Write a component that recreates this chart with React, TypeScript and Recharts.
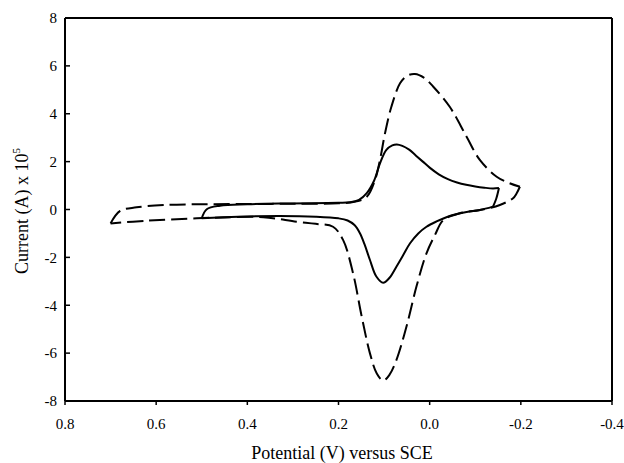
import { LineChart, Line, XAxis, YAxis, ReferenceLine } from 'recharts';

// potential (V) vs current (A x 10^5)
const solidForward: [number, number][] = [
  [0.5, -0.37], [0.489, 0.01], [0.46, 0.16], [0.4, 0.22], [0.33, 0.25], [0.26, 0.26],
  [0.2, 0.28], [0.175, 0.3], [0.155, 0.4], [0.138, 0.68], [0.122, 1.2], [0.109, 1.93],
  [0.095, 2.49], [0.082, 2.68], [0.072, 2.72], [0.06, 2.66], [0.045, 2.5], [0.03, 2.25],
  [0.015, 2.0], [0.0, 1.75], [-0.02, 1.47], [-0.04, 1.27], [-0.06, 1.13], [-0.08, 1.03],
  [-0.1, 0.96], [-0.12, 0.91], [-0.139, 0.88], [-0.152, 0.9],
];
const solidTurn: [number, number][] = [[-0.152, 0.9], [-0.146, 0.45], [-0.139, 0.12]];
const solidReverse: [number, number][] = [
  [-0.139, 0.12], [-0.11, -0.02], [-0.081, -0.1], [-0.044, -0.27], [-0.015, -0.5],
  [0.007, -0.72], [0.025, -1.0], [0.043, -1.41], [0.058, -1.9], [0.073, -2.39],
  [0.088, -2.85], [0.102, -3.06], [0.117, -2.8], [0.131, -2.11], [0.143, -1.45],
  [0.153, -0.99], [0.165, -0.65], [0.18, -0.46], [0.2, -0.37], [0.25, -0.3],
  [0.33, -0.27], [0.42, -0.3], [0.5, -0.37],
];

const dashedForward: [number, number][] = [
  [0.7, -0.58], [0.679, -0.06], [0.643, 0.09], [0.584, 0.19], [0.5, 0.22], [0.4, 0.23],
  [0.3, 0.24], [0.2, 0.26], [0.165, 0.32], [0.138, 0.53], [0.12, 1.23], [0.109, 2.07],
  [0.098, 3.18], [0.084, 4.29], [0.065, 5.27], [0.05, 5.58], [0.0325, 5.66], [0.012, 5.5],
  [-0.008, 5.13], [-0.044, 4.29], [-0.081, 3.04], [-0.11, 2.07], [-0.147, 1.37],
  [-0.175, 1.1], [-0.198, 0.95],
];
const dashedReverse: [number, number][] = [
  [-0.198, 0.95], [-0.19, 0.65], [-0.183, 0.47], [-0.154, 0.19], [-0.117, 0.0],
  [-0.066, -0.16], [-0.03, -0.44], [-0.012, -1.05], [0.007, -1.83], [0.029, -3.22],
  [0.051, -4.9], [0.073, -6.29], [0.088, -6.9], [0.102, -7.15], [0.116, -6.85],
  [0.131, -6.01], [0.149, -4.48], [0.168, -2.67], [0.19, -1.27], [0.212, -0.72],
  [0.25, -0.6], [0.292, -0.51], [0.365, -0.32], [0.45, -0.33], [0.511, -0.37],
  [0.621, -0.47], [0.7, -0.58],
];

const xTicks = [0.8, 0.6, 0.4, 0.2, 0, -0.2, -0.4];
const yTicks = [-8, -6, -4, -2, 0, 2, 4, 6, 8];

const toRows = (pts: [number, number][]) => pts.map(([v, i]) => ({ v, i }));

const FONT = 'Liberation Serif';

// centripetal catmull-rom, so unevenly spaced points don't wobble
function catmullRom(ctx: any) {
  let pts: number[][] = [];
  return {
    areaStart() {},
    areaEnd() {},
    lineStart() { pts = []; },
    point(x: number, y: number) { pts.push([+x, +y]); },
    lineEnd() {
      if (!pts.length) return;
      ctx.moveTo(pts[0][0], pts[0][1]);
      const d = (a: number[], b: number[]) => Math.sqrt(Math.hypot(a[0] - b[0], a[1] - b[1]));
      for (let k = 0; k < pts.length - 1; k++) {
        const p0 = pts[k - 1] || pts[k];
        const p1 = pts[k];
        const p2 = pts[k + 1];
        const p3 = pts[k + 2] || pts[k + 1];
        const l01 = k > 0 ? d(p0, p1) : 0;
        const l12 = d(p1, p2);
        const l23 = k + 2 < pts.length ? d(p2, p3) : 0;
        let c1 = p1;
        let c2 = p2;
        if (l01 > 1e-9) {
          const a = 2 * l01 * l01 + 3 * l01 * l12 + l12 * l12;
          const n = 3 * l01 * (l01 + l12);
          c1 = [0, 1].map((j) => (p1[j] * a - p0[j] * l12 * l12 + p2[j] * l01 * l01) / n);
        }
        if (l23 > 1e-9) {
          const b = 2 * l23 * l23 + 3 * l23 * l12 + l12 * l12;
          const m = 3 * l23 * (l23 + l12);
          c2 = [0, 1].map((j) => (p2[j] * b + p1[j] * l23 * l23 - p3[j] * l12 * l12) / m);
        }
        ctx.bezierCurveTo(c1[0], c1[1], c2[0], c2[1], p2[0], p2[1]);
      }
    },
  };
}

const XTick = ({ x, y, payload }: any) => (
  <text x={x} y={y} dy="0.71em" textAnchor="middle" fontFamily={FONT} fontSize={15} fill="#000">
    {Number(payload.value).toFixed(1)}
  </text>
);

const YTick = ({ x, y, payload }: any) => (
  <text x={x} y={y} dy="0.355em" textAnchor="end" fontFamily={FONT} fontSize={15} fill="#000">
    {payload.value}
  </text>
);

const XTitle = () => (
  <text x={342} y={459} textAnchor="middle" fontFamily={FONT} fontSize={18} fill="#000">
    Potential (V) versus SCE
  </text>
);

const YTitle = () => (
  <text transform="translate(28,211) rotate(-90)" textAnchor="middle" fontFamily={FONT} fontSize={18} fill="#000">
    Current (A) x 10<tspan dy={-8} fontSize={11}>5</tspan>
  </text>
);

export default function App() {
  const curve = (pts: [number, number][], key: string, dashed: boolean) => (
    <Line
      key={key}
      data={toRows(pts)}
      dataKey="i"
      type={catmullRom as any}
      stroke="#000"
      strokeWidth={2}
      strokeDasharray={dashed ? '16 6' : undefined}
      dot={false}
      activeDot={false}
      isAnimationActive={false}
    />
  );

  return (
    <div style={{ position: 'absolute', left: 0, top: 0, background: '#fff' }}>
      <LineChart width={624} height={463} margin={{ top: 18, right: 12, bottom: 0, left: 0 }}>
        <XAxis
          dataKey="v"
          type="number"
          domain={[-0.4, 0.8]}
          reversed
          ticks={xTicks}
          interval={0}
          height={62}
          tickSize={4}
          tickMargin={13}
          tick={<XTick />}
          axisLine={{ stroke: '#000', strokeWidth: 2 }}
          tickLine={{ stroke: '#000', strokeWidth: 1.5 }}
          allowDataOverflow
          label={<XTitle />}
        />
        <YAxis
          type="number"
          domain={[-8, 8]}
          ticks={yTicks}
          interval={0}
          width={65}
          tickSize={-5}
          tickMargin={13}
          tick={<YTick />}
          axisLine={{ stroke: '#000', strokeWidth: 2 }}
          tickLine={{ stroke: '#000', strokeWidth: 1.5 }}
          allowDataOverflow
          label={<YTitle />}
        />
        <ReferenceLine y={8} stroke="#000" strokeWidth={2} />
        <ReferenceLine x={-0.4} stroke="#000" strokeWidth={2} />
        {curve(solidForward, 's1', false)}
        {curve(solidTurn, 's2', false)}
        {curve(solidReverse, 's3', false)}
        {curve(dashedForward, 'd1', true)}
        {curve(dashedReverse, 'd2', true)}
      </LineChart>
    </div>
  );
}
